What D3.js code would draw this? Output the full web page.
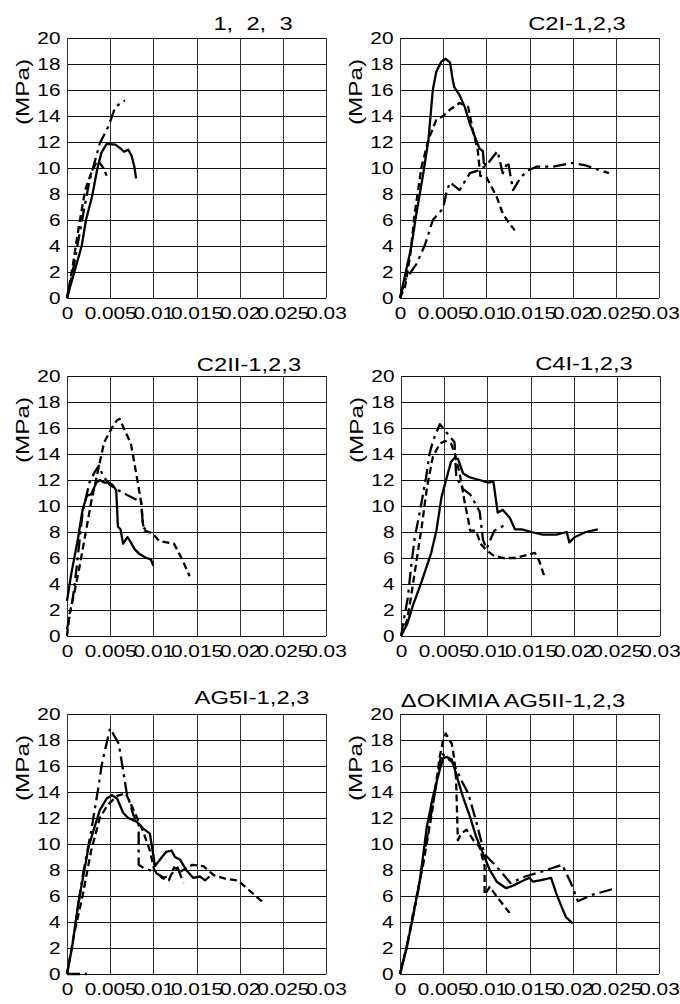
<!DOCTYPE html>
<html>
<head>
<meta charset="utf-8">
<script src="https://cdn.jsdelivr.net/npm/d3@7"></script>
<style>
  body { margin: 0; background: #fff; }
  svg { display: block; }
  text { font-family: "Liberation Sans", Arial, sans-serif; fill: #000; }
</style>
</head>
<body>
<div id="chart"></div>
<script>
// tick values / labels
const xTicks = [0, 0.005, 0.01, 0.015, 0.02, 0.025, 0.03];
const xTickLabels = ["0", "0.005", "0.01", "0.015", "0.02", "0.025", "0.03"];
const yTicks = [0, 2, 4, 6, 8, 10, 12, 14, 16, 18, 20];
const titles = ["1,\u00a0\u00a02,\u00a0\u00a03", "C2I-1,2,3", "C2II-1,2,3", "C4I-1,2,3", "AG5I-1,2,3", "\u0394OKIMIA AG5II-1,2,3"];
const yLabel = "(MPa)";

// [strain, stress]; null stress = break in the curve
const p1Solid = [[0,0],[0.0017,4.0],[0.0022,6.0],[0.0029,7.8],[0.0035,9.9],[0.0040,11.2],[0.0046,11.85],[0.0056,11.8],[0.0062,11.5],[0.0066,11.25],[0.0071,11.4],[0.0075,10.9],[0.0078,10.1],[0.0080,9.2]];
const p1Dash = [[0,0],[0.0006,2.2],[0.0013,5.2],[0.0021,8.3],[0.0028,9.6],[0.0033,10.3],[0.0037,10.5],[0.0042,10.0],[0.0046,9.4]];
const p1DashDot = [[0,0],[0.0008,2.5],[0.0016,5.5],[0.0026,9.0],[0.0038,11.9],[0.0048,13.2],[0.0056,14.7],[0.0067,15.2]];

const p2Solid = [[0,0],[0.0008,2.4],[0.0013,3.9],[0.0019,6.5],[0.0027,9.6],[0.0033,12.2],[0.0038,16.0],[0.0042,17.4],[0.0048,18.2],[0.0053,18.4],[0.0058,18.1],[0.0061,16.8],[0.0063,16.2],[0.0069,15.6],[0.0075,14.7],[0.0081,13.4],[0.0085,12.7],[0.0092,11.5],[0.0096,11.3],[0.0097,10.4],[0.0100,10.2]];
const p2Dash = [[0,0],[0.0006,0.9],[0.0012,3.4],[0.0017,6.5],[0.0025,10.1],[0.0033,12.2],[0.0042,13.7],[0.005,14.0],[0.0058,14.5],[0.0069,15.0],[0.0079,14.7],[0.0085,12.7],[0.0090,11.4],[0.0093,9.4],[0.0100,9.3],[0.0112,7.8],[0.0119,6.5],[0.0127,5.7],[0.0133,5.2]];
const p2DashDot = [[0,0],[0.0006,1.4],[0.0019,2.6],[0.0029,4.1],[0.0038,6.0],[0.005,6.9],[0.0054,8.2],[0.0058,8.9],[0.0069,8.3],[0.0081,9.6],[0.0090,9.8],[0.0100,10.2],[0.0113,11.3],[0.0119,9.6],[0.0125,10.5],[0.0131,8.3],[0.014,9.3],[0.0148,9.8],[0.0158,10.1],[0.0177,10.1],[0.020,10.4],[0.0215,10.2],[0.0242,9.6]];

const p3Solid = [[0,2.7],[0.0005,4.8],[0.0013,7.6],[0.0018,9.7],[0.0023,10.8],[0.0028,10.9],[0.0034,11.8],[0.0038,12.0],[0.0043,11.8],[0.0049,11.8],[0.0053,11.6],[0.0057,11.2],[0.0059,8.4],[0.0062,8.2],[0.0065,7.1],[0.007,7.6],[0.0074,7.2],[0.0078,6.7],[0.0084,6.3],[0.0092,6.0],[0.0097,5.9],[0.0100,5.4]];
const p3Dash = [[0,0],[0.0003,1.7],[0.0009,3.5],[0.0015,5.5],[0.0028,10.3],[0.0043,14.9],[0.0052,16.0],[0.0058,16.6],[0.0061,16.7],[0.0065,16.1],[0.0074,14.8],[0.0078,13.3],[0.0082,11.8],[0.0086,10.2],[0.0088,8.6],[0.009,8.1],[0.0099,7.9],[0.0107,7.3],[0.0124,7.1],[0.0134,5.8],[0.0142,4.6]];
const p3DashDot = [[0,0.5],[0.0006,2.6],[0.0009,4.0],[0.0014,7.0],[0.0018,9.5],[0.0026,11.8],[0.0032,12.6],[0.0037,13.1],[0.0040,12.6],[0.0043,12.2],[0.0050,11.6],[0.0060,11.2],[0.0068,10.9],[0.0086,10.3],[0.0088,8.4],[0.0092,8.1]];

const p4Solid = [[0,0],[0.0007,0.9],[0.0014,2.4],[0.0024,4.2],[0.0035,6.4],[0.0041,8.1],[0.0047,10.7],[0.0053,12.2],[0.0058,13.4],[0.0062,13.7],[0.0066,13.6],[0.0072,12.5],[0.008,12.2],[0.0091,12.0],[0.0101,11.8],[0.0107,11.9],[0.0112,9.5],[0.0118,9.7],[0.0126,9.1],[0.0132,8.2],[0.014,8.2],[0.0151,8.0],[0.0164,7.8],[0.018,7.8],[0.0192,8.0],[0.0195,7.2],[0.0201,7.6],[0.0214,8.0],[0.0228,8.2]];
const p4Dash = [[0,0],[0.0007,1.2],[0.0012,3.2],[0.0018,5.8],[0.0024,8.4],[0.003,11.4],[0.0037,13.8],[0.0045,14.8],[0.0051,15.0],[0.0058,14.8],[0.0062,14.1],[0.0068,12.5],[0.0074,10.2],[0.0078,8.9],[0.008,8.1],[0.0087,8.1],[0.0092,7.1],[0.0099,6.6],[0.0107,6.2],[0.0118,6.0],[0.0133,6.0],[0.0155,6.4],[0.016,5.8],[0.0166,4.6]];
const p4DashDot = [[0,0],[0.0008,3.0],[0.0012,5.5],[0.0016,7.6],[0.0022,9.6],[0.0029,12.2],[0.0033,14.0],[0.0037,15.0],[0.0045,16.3],[0.0062,14.9],[0.0064,12.2],[0.0072,11.3],[0.008,10.9],[0.0091,9.6],[0.0095,7.4],[0.0099,6.7],[0.0108,8.1],[0.0122,8.6]];

const p5Solid = [[0,0],[0.0006,2.1],[0.0013,5.4],[0.0021,8.3],[0.0025,9.8],[0.0031,11.1],[0.0038,12.6],[0.0046,13.5],[0.0052,13.75],[0.0058,13.5],[0.0065,12.4],[0.0071,12.0],[0.0081,11.7],[0.0088,11.2],[0.0096,10.8],[0.0102,8.3],[0.011,9.0],[0.0115,9.4],[0.0121,9.5],[0.0125,9.0],[0.0131,8.8],[0.0138,8.0],[0.0146,7.4],[0.0154,7.5],[0.016,7.2],[0.0165,7.5]];
const p5Dash = [[0,0],[0.0008,3.0],[0.0018,6.0],[0.0028,9.5],[0.0038,12.0],[0.0047,13.0],[0.0058,13.7],[0.0068,13.9],[0.0078,12.5],[0.0088,11.0],[0.0096,9.5],[0.0101,8.0],[0.011,7.4],[0.0118,7.2],[0.0124,8.2],[0.0132,7.9],[0.0145,8.4],[0.0158,8.3],[0.017,7.6],[0.0185,7.3],[0.0198,7.2],[0.021,6.5],[0.0229,5.4]];
const p5DashDot = [[0,0],[0.0023,0],[0.0023,null],[0.0009,3.5],[0.0018,7.5],[0.0028,11.0],[0.0036,14.2],[0.004,16.0],[0.0045,17.5],[0.005,18.9],[0.006,17.7],[0.0069,14.0],[0.0077,12.2],[0.0083,11.6],[0.0083,8.4],[0.009,8.1],[0.010,7.9],[0.0112,7.4],[0.012,7.6],[0.0128,8.2],[0.0135,7.0]];

const p6Solid = [[0,0],[0.0008,2.1],[0.0015,4.4],[0.0023,7.2],[0.0031,11.3],[0.0038,13.6],[0.0046,15.7],[0.005,16.6],[0.0054,16.7],[0.006,16.5],[0.0065,15.4],[0.0073,13.6],[0.0081,12.1],[0.0088,10.6],[0.0096,9.3],[0.0104,8.0],[0.0112,7.1],[0.0123,6.6],[0.0131,6.8],[0.014,7.1],[0.015,7.4],[0.0154,7.1],[0.0162,7.2],[0.0175,7.4],[0.0181,6.2],[0.0187,5.2],[0.0192,4.4],[0.02,3.9]];
const p6Dash = [[0,0],[0.0008,2.1],[0.0015,4.6],[0.0027,8.5],[0.0037,12.4],[0.0046,16.7],[0.005,18.0],[0.0053,18.5],[0.006,17.7],[0.0063,16.5],[0.0065,14.9],[0.0066,12.6],[0.0067,10.3],[0.0071,10.8],[0.0077,11.1],[0.0085,10.3],[0.0092,9.8],[0.0098,8.3],[0.0098,6.1],[0.0104,6.7],[0.0115,5.7],[0.0127,4.7]];
const p6DashDot = [[0,0],[0.001,2.8],[0.002,6.0],[0.003,10.0],[0.004,13.8],[0.0048,17.0],[0.0062,16.2],[0.0071,14.9],[0.0079,13.9],[0.0088,11.8],[0.0098,9.2],[0.011,8.4],[0.0128,7.0],[0.0145,7.5],[0.0165,7.9],[0.0188,8.4],[0.0198,7.0],[0.0206,5.6],[0.0223,6.1],[0.025,6.6]];

const panelSeries = [
  [p1Solid, p1Dash, p1DashDot],
  [p2Solid, p2Dash, p2DashDot],
  [p3Solid, p3Dash, p3DashDot],
  [p4Solid, p4Dash, p4DashDot],
  [p5Solid, p5Dash, p5DashDot],
  [p6Solid, p6Dash, p6DashDot]
];

// layout
const width = 680, height = 1004;
const pw = 259, ph = 260;
const panels = [
  {left: 67, top: 38, tx: 186, ty: -8},
  {left: 400, top: 38, tx: 177, ty: -8},
  {left: 67, top: 376, tx: 182, ty: -5},
  {left: 401, top: 376, tx: 183, ty: -6},
  {left: 67, top: 714, tx: 185, ty: -10},
  {left: 400, top: 714, tx: 113, ty: -7}
];
const dashes = [null, "7,4", "13,5,3,5"];
const stretch = 1.3;

const svg = d3.select("#chart").append("svg")
  .attr("width", width)
  .attr("height", height);

panels.forEach((p, i) => {
  const g = svg.append("g").attr("transform", `translate(${p.left},${p.top})`);

  const x = d3.scaleLinear().domain([0, 0.03]).range([0, pw]);
  const y = d3.scaleLinear().domain([0, 20]).range([ph, 0]);

  // grid
  g.selectAll(".hgrid").data(yTicks).enter().append("line")
    .attr("x1", 0).attr("x2", pw)
    .attr("y1", d => Math.round(y(d)) + 0.5).attr("y2", d => Math.round(y(d)) + 0.5)
    .attr("stroke", "#111").attr("stroke-width", 1);
  g.selectAll(".vgrid").data(xTicks).enter().append("line")
    .attr("x1", d => Math.round(x(d)) + 0.5).attr("x2", d => Math.round(x(d)) + 0.5)
    .attr("y1", 0).attr("y2", ph)
    .attr("stroke", "#333").attr("stroke-width", 1);

  // axes (labels only)
  const ya = g.append("g")
    .call(d3.axisLeft(y).tickValues(yTicks).tickSize(0).tickPadding(5));
  const xa = g.append("g")
    .attr("transform", `translate(0,${ph})`)
    .call(d3.axisBottom(x).tickValues(xTicks).tickSize(0).tickPadding(10)
      .tickFormat((d, k) => xTickLabels[k]));
  [ya, xa].forEach(a => {
    a.select(".domain").remove();
    a.selectAll("text")
      .attr("font-size", 16)
      .attr("font-family", "'Liberation Sans', Arial, sans-serif")
      .attr("fill", "#000")
      .attr("transform", `scale(${stretch},1)`);
  });
  xa.selectAll("text").attr("x", 0);

  // curves
  const line = d3.line()
    .defined(d => d[1] !== null)
    .x(d => x(d[0]))
    .y(d => y(d[1]));

  panelSeries[i].forEach((s, k) => {
    g.append("path")
      .datum(s)
      .attr("d", line)
      .attr("fill", "none")
      .attr("stroke", "#000")
      .attr("stroke-width", 2.3)
      .attr("stroke-linejoin", "round")
      .attr("stroke-dasharray", dashes[k]);
  });

  // title
  g.append("text")
    .attr("transform", `translate(${p.tx},${p.ty}) scale(1.25,1)`)
    .attr("text-anchor", "middle")
    .attr("font-size", 19)
    .text(titles[i]);

  // y label
  g.append("text")
    .attr("transform", `translate(-38,54) rotate(-90) scale(1.35,1)`)
    .attr("text-anchor", "middle")
    .attr("font-size", 18)
    .text(yLabel);
});
</script>
</body>
</html>
